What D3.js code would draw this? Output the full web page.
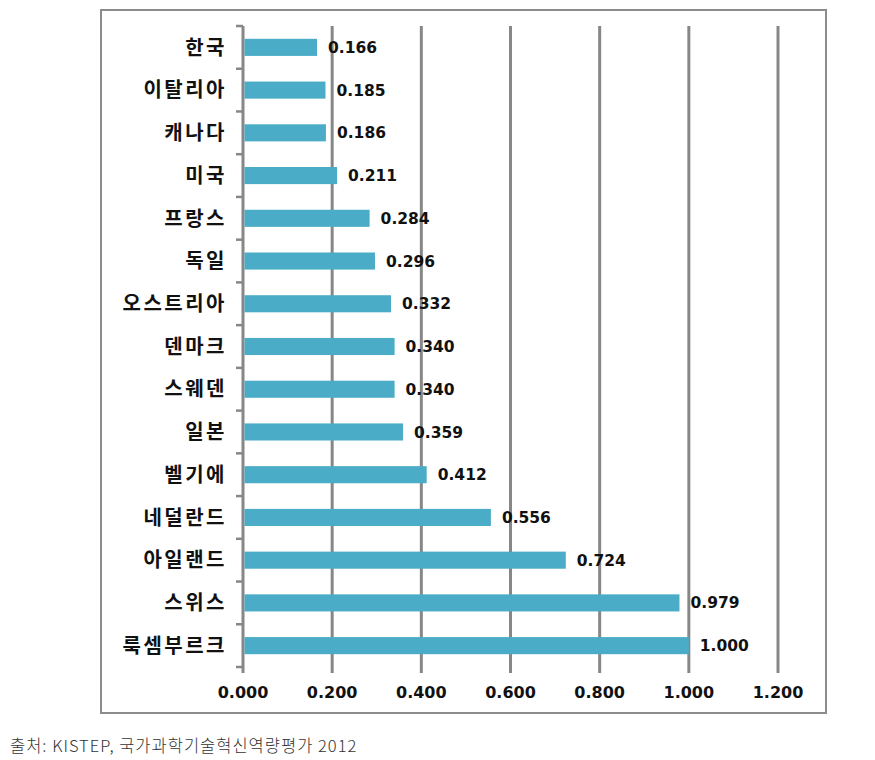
<!DOCTYPE html>
<html><head><meta charset="utf-8">
<script src="https://cdn.jsdelivr.net/npm/d3@7"></script>
<style>body{margin:0;background:#fff}</style>
</head><body>
<svg id="chart" width="875" height="760"></svg>
<script>
const categories = ["한국","이탈리아","캐나다","미국","프랑스","독일","오스트리아","덴마크","스웨덴","일본","벨기에","네덜란드","아일랜드","스위스","룩셈부르크"];
const values = [0.166,0.185,0.186,0.211,0.284,0.296,0.332,0.340,0.340,0.359,0.412,0.556,0.724,0.979,1.000];
const xTicks = [0,0.2,0.4,0.6,0.8,1.0,1.2];
const source = "출처: KISTEP, 국가과학기술혁신역량평가 2012";

const svg = d3.select("#chart");
const pLeft = 243, pRight = 778, pTop = 26, pBottom = 667;
const x = d3.scaleLinear().domain([0,1.2]).range([pLeft,pRight]);
const y = d3.scaleBand().domain(categories).range([pTop,pBottom]).paddingInner(0.6).paddingOuter(0.3);
const band = (pBottom-pTop)/categories.length;

// outer border
svg.append("rect").attr("x",101).attr("y",10).attr("width",725).attr("height",703)
  .attr("fill","none").attr("stroke","#8c8c8c").attr("stroke-width",2);

// gridlines
svg.append("g").selectAll("line").data(xTicks).join("line")
  .attr("x1",d=>x(d)).attr("x2",d=>x(d)).attr("y1",pTop).attr("y2",pBottom+6)
  .attr("stroke","#878787").attr("stroke-width",3);

// y axis ticks at band boundaries
const bounds = d3.range(categories.length+1).map(i=>pTop+i*band);
svg.append("g").selectAll("line").data(bounds).join("line")
  .attr("x1",pLeft-7).attr("x2",pLeft).attr("y1",d=>d).attr("y2",d=>d)
  .attr("stroke","#878787").attr("stroke-width",2.5);

// bars
svg.append("g").selectAll("rect").data(values).join("rect")
  .attr("x",x(0)+1.5).attr("y",(d,i)=>y(categories[i]))
  .attr("width",d=>x(d)-x(0)-1.5).attr("height",y.bandwidth())
  .attr("fill","#4aacc6");

// value labels
svg.append("g").selectAll("text").data(values).join("text")
  .attr("x",d=>x(d)+11).attr("y",(d,i)=>y(categories[i])+y.bandwidth()/2)
  .attr("dy","0.36em").attr("font-family","DejaVu Sans").attr("font-weight","bold")
  .attr("font-size",15.5).attr("fill","#111").text(d=>d3.format(".3f")(d));

// category labels
svg.append("g").selectAll("text").data(categories).join("text")
  .attr("x",227).attr("y",d=>y(d)+y.bandwidth()/2)
  .attr("dy","0.36em").attr("text-anchor","end")
  .attr("font-family","Noto Sans CJK KR").attr("font-weight","bold")
  .attr("font-size",20).attr("letter-spacing",2.5).attr("fill","#111").text(d=>d);

// x tick labels
svg.append("g").selectAll("text").data(xTicks).join("text")
  .attr("x",d=>x(d)).attr("y",698).attr("text-anchor","middle")
  .attr("font-family","DejaVu Sans").attr("font-weight","bold")
  .attr("font-size",16).attr("fill","#111").text(d=>d3.format(".3f")(d));

// source
svg.append("text").attr("x",10).attr("y",752)
  .attr("font-family","Noto Sans CJK KR").attr("font-weight",300)
  .attr("font-size",16.5).attr("fill","#333").attr("letter-spacing",1).text(source);
</script>
</body></html>
